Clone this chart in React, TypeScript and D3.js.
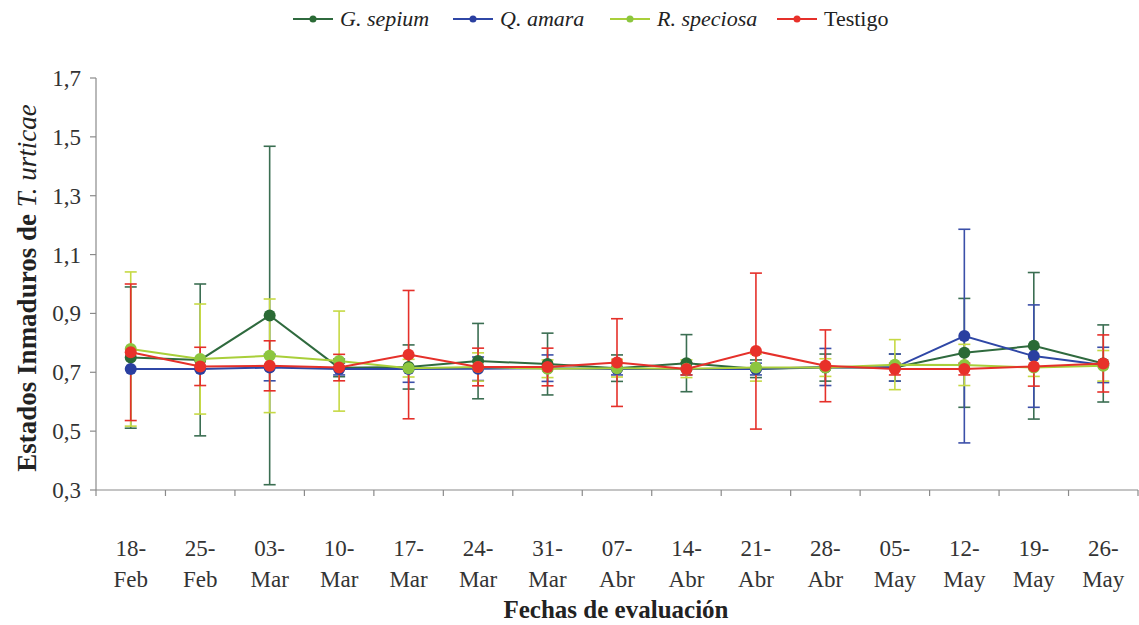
import React from "react";
import * as d3 from "d3";

const dates = ["18-Feb","25-Feb","03-Mar","10-Mar","17-Mar","24-Mar","31-Mar","07-Abr","14-Abr","21-Abr","28-Abr","05-May","12-May","19-May","26-May"];
const yTicks = [0.3, 0.5, 0.7, 0.9, 1.1, 1.3, 1.5, 1.7];

const sepiumMean = [0.750, 0.742, 0.893, 0.715, 0.718, 0.738, 0.728, 0.714, 0.731, 0.712, 0.716, 0.716, 0.766, 0.790, 0.730];
const sepiumErr = [0.240, 0.258, 0.575, 0.030, 0.075, 0.128, 0.105, 0.045, 0.097, 0.030, 0.046, 0.046, 0.185, 0.249, 0.131];
const amaraMean = [0.711, 0.711, 0.716, 0.711, 0.711, 0.712, 0.714, 0.711, 0.711, 0.711, 0.718, 0.716, 0.823, 0.755, 0.725];
const amaraErr = [0.000, 0.000, 0.045, 0.020, 0.045, 0.040, 0.045, 0.020, 0.020, 0.020, 0.063, 0.046, 0.363, 0.174, 0.060];
const speciosaMean = [0.779, 0.745, 0.756, 0.738, 0.714, 0.718, 0.712, 0.714, 0.712, 0.716, 0.716, 0.726, 0.725, 0.716, 0.722];
const speciosaErr = [0.262, 0.187, 0.193, 0.170, 0.030, 0.048, 0.030, 0.030, 0.030, 0.046, 0.030, 0.085, 0.070, 0.030, 0.052];
const testigoMean = [0.768, 0.720, 0.722, 0.716, 0.760, 0.718, 0.718, 0.733, 0.711, 0.772, 0.722, 0.711, 0.711, 0.720, 0.730];
const testigoErr = [0.232, 0.065, 0.085, 0.045, 0.218, 0.064, 0.064, 0.149, 0.020, 0.265, 0.122, 0.020, 0.020, 0.067, 0.097];

const series = [
  { name: "G. sepium", italic: true, mean: sepiumMean, err: sepiumErr, color: "#2f6a3e", bar: "#3b6e52", dot: "#2a6a35" },
  { name: "Q. amara", italic: true, mean: amaraMean, err: amaraErr, color: "#2f47a6", bar: "#3b4fa8", dot: "#2a3fa0" },
  { name: "R. speciosa", italic: true, mean: speciosaMean, err: speciosaErr, color: "#a9cf3a", bar: "#c6d944", dot: "#8cc63f" },
  { name: "Testigo", italic: false, mean: testigoMean, err: testigoErr, color: "#e5302a", bar: "#e5302a", dot: "#e8312a" },
];

const W = 1139, H = 625;
const left = 96, right = 1138, top = 78, bottom = 490;
const font = "'Liberation Serif', 'Times New Roman', serif";

export default function App() {
  const x = d3.scaleBand().domain(dates).range([left, right]);
  const y = d3.scaleLinear().domain([0.3, 1.7]).range([bottom, top]);
  const cx = (d: string) => (x(d) as number) + x.bandwidth() / 2;
  const axisColor = "#8a8a8a";
  const legendX = [293, 453, 610, 777];

  return (
    <svg width={W} height={H} style={{ position: "absolute", left: 0, top: 0, background: "#fff", fontFamily: font }}>
      {/* legend */}
      {series.map((s, i) => (
        <g key={s.name} transform={`translate(${legendX[i]},19)`}>
          <line x1={0} x2={40} y1={0} y2={0} stroke={s.color} strokeWidth={2} />
          <circle cx={20} cy={0} r={3.5} fill={s.dot} />
          <text x={47} y={7} fontSize={22} fontStyle={s.italic ? "italic" : "normal"} fill="#222" style={{ fontFamily: font }}>{s.name}</text>
        </g>
      ))}
      {/* axes */}
      <line x1={left} x2={left} y1={top} y2={bottom} stroke={axisColor} strokeWidth={1.2} />
      <line x1={left} x2={right} y1={bottom} y2={bottom} stroke={axisColor} strokeWidth={1.2} />
      {yTicks.map((t) => (
        <g key={t}>
          <line x1={left - 6} x2={left} y1={y(t)} y2={y(t)} stroke={axisColor} strokeWidth={1.2} />
          <text x={81} y={y(t) + 8} textAnchor="end" fontSize={23} fill="#333" style={{ fontFamily: font }}>{t.toFixed(1).replace(".", ",")}</text>
        </g>
      ))}
      {dates.map((d) => (
        <line key={"t" + d} x1={x(d) as number} x2={x(d) as number} y1={bottom} y2={bottom + 6} stroke={axisColor} strokeWidth={1.2} />
      ))}
      <line x1={right} x2={right} y1={bottom} y2={bottom + 6} stroke={axisColor} strokeWidth={1.2} />
      {dates.map((d) => {
        const [day, mon] = d.split("-");
        return (
          <text key={"l" + d} x={cx(d)} textAnchor="middle" fontSize={23} fill="#333" style={{ fontFamily: font }}>
            <tspan x={cx(d)} y={556}>{day + "-"}</tspan>
            <tspan x={cx(d)} y={587}>{mon}</tspan>
          </text>
        );
      })}
      <text x={616} y={618} textAnchor="middle" fontSize={25} fontWeight="bold" fill="#222" style={{ fontFamily: font }}>Fechas de evaluación</text>
      <text transform={`translate(36,288) rotate(-90)`} textAnchor="middle" fontSize={27} fill="#222" style={{ fontFamily: font }}>
        <tspan fontWeight="bold">Estados  Inmaduros  de </tspan>
        <tspan fontStyle="italic">T. urticae</tspan>
      </text>
      {/* error bars */}
      {series.map((s) => (
        <g key={"e" + s.name}>
          {dates.map((d, i) => {
            if (s.err[i] <= 0) return null;
            const hi = y(s.mean[i] + s.err[i]);
            const lo = y(s.mean[i] - s.err[i]);
            const c = cx(d);
            return (
              <g key={d} stroke={s.bar} strokeWidth={1.6}>
                <line x1={c} x2={c} y1={hi} y2={lo} />
                <line x1={c - 6} x2={c + 6} y1={hi} y2={hi} />
                <line x1={c - 6} x2={c + 6} y1={lo} y2={lo} />
              </g>
            );
          })}
        </g>
      ))}
      {/* lines and dots */}
      {series.map((s) => {
        const line = d3.line<number>().x((_, i) => cx(dates[i])).y((v) => y(v));
        return (
          <g key={"s" + s.name}>
            <path d={line(s.mean) || ""} fill="none" stroke={s.color} strokeWidth={2} />
            {s.mean.map((v, i) => (
              <circle key={i} cx={cx(dates[i])} cy={y(v)} r={6} fill={s.dot} />
            ))}
          </g>
        );
      })}
    </svg>
  );
}
